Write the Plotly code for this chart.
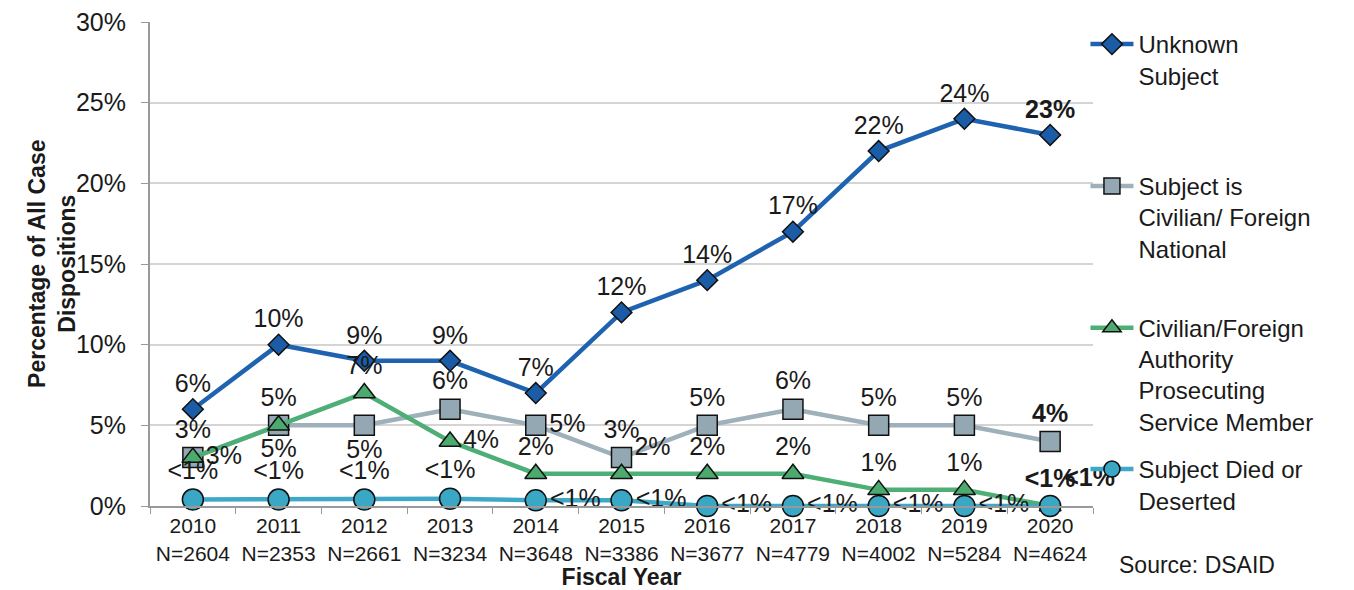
import plotly.graph_objects as go

years = ["2010", "2011", "2012", "2013", "2014", "2015", "2016", "2017", "2018", "2019", "2020"]
case_counts = [2604, 2353, 2661, 3234, 3648, 3386, 3677, 4779, 4002, 5284, 4624]

unknown_subject = [6, 10, 9, 9, 7, 12, 14, 17, 22, 24, 23]
civilian_foreign_national = [3, 5, 5, 6, 5, 3, 5, 6, 5, 5, 4]
foreign_authority = [3, 5, 7, 4, 2, 2, 2, 2, 1, 1, 0]
died_or_deserted = [0.4, 0.4, 0.4, 0.45, 0.35, 0.35, 0, 0, 0, 0, 0]

unknown_labels = ["6%", "10%", "9%", "9%", "7%", "12%", "14%", "17%", "22%", "24%", "<b>23%</b>"]
national_labels = ["3%", "5%", "5%", "6%", "5%", "3%", "5%", "6%", "5%", "5%", "<b>4%</b>"]
authority_labels = ["3%", "5%", "7%", "4%", "2%", "2%", "2%", "2%", "1%", "1%", "<b><1%</b>"]
died_labels = ["<1%"] * 10 + ["<b><1%</b>"]

y_ticks = [0, 5, 10, 15, 20, 25, 30]
tick_text = [f"{y}<br>N={n}" for y, n in zip(years, case_counts)]

FONT = "Liberation Sans, Arial, sans-serif"
LABEL_SIZE = 25

fig = go.Figure()

series = [
    ("Unknown<br>Subject<br> <br> ", unknown_subject, unknown_labels,
     ["top center"] * 11,
     "#1F62B0", "#1A5CA6", "diamond", 16, "legend"),
    ("Subject is<br>Civilian/ Foreign<br>National<br> ", civilian_foreign_national, national_labels,
     ["top center", "top center", "bottom center", "top center", "middle right", "top center",
      "top center", "top center", "top center", "top center", "top center"],
     "#9EB0B9", "#93A8B2", "square", 20, "legend"),
    ("Civilian/Foreign<br>Authority<br>Prosecuting<br>Service Member", foreign_authority, authority_labels,
     ["middle right", "bottom center", "top center", "middle right", "top center", "top right",
      "top center", "top center", "top center", "top center", "top center"],
     "#4DAE76", "#4CAA6E", "triangle-up", 19, "legend"),
    ("Subject Died or<br>Deserted", died_or_deserted, died_labels,
     ["top center", "top center", "top center", "top center", "middle right", "middle right",
      "middle right", "middle right", "middle right", "middle right", "top right"],
     "#3EA8C6", "#3AA7C5", "circle", 21, "legend2"),
]

for i, (name, vals, labels, pos, line_col, fill, sym, size, leg) in enumerate(series):
    fig.add_trace(go.Scatter(
        x=years, y=vals, name=name, legendgroup=f"g{i}", legend=leg,
        mode="lines+markers+text",
        line=dict(color=line_col, width=4.5),
        marker=dict(symbol=sym, size=size, color=fill, line=dict(color="#111111", width=1.5)),
        text=labels, textposition=pos,
        textfont=dict(family=FONT, size=LABEL_SIZE, color="#1a1a1a"),
        cliponaxis=False,
    ))

legend_style = dict(
    x=0.992, xanchor="left", yanchor="top",
    valign="top", tracegroupgap=14, itemwidth=43,
    font=dict(family=FONT, size=24, color="#1a1a1a"),
    bgcolor="rgba(0,0,0,0)",
)

fig.update_layout(
    width=1354, height=590,
    margin=dict(l=150, r=261, t=22, b=84, autoexpand=False),
    paper_bgcolor="white", plot_bgcolor="white",
    font=dict(family=FONT, color="#1a1a1a"),
    showlegend=True,
    legend=dict(legend_style, y=1.0),
    legend2=dict(legend_style, y=0.122),
    xaxis=dict(
        type="category", range=[-0.5, 10.5],
        tickvals=years, ticktext=tick_text, tickangle=0,
        tickson="boundaries", ticks="outside", ticklen=6, tickcolor="#999999",
        showline=True, linecolor="#999999", linewidth=2,
        showgrid=False, automargin=False,
        tickfont=dict(family=FONT, size=21),
        title=dict(text="<b>Fiscal Year</b>", font=dict(family=FONT, size=23), standoff=0),
    ),
    yaxis=dict(
        range=[0, 30], tickvals=y_ticks, ticktext=[f"{v}%" for v in y_ticks],
        ticks="outside", ticklen=7, tickcolor="#999999",
        showline=True, linecolor="#999999", linewidth=2,
        showgrid=True, gridcolor="#d4d4d4", gridwidth=1.5,
        zeroline=False, automargin=False, ticklabelstandoff=10,
        tickfont=dict(family=FONT, size=25),
    ),
    annotations=[
        dict(
            text="<b>Percentage of All Case<br>Dispositions</b>", textangle=-90,
            xref="paper", yref="paper", x=-0.104, y=0.5,
            xanchor="center", yanchor="middle", showarrow=False,
            font=dict(family=FONT, size=23, color="#1a1a1a"),
        ),
        dict(
            text="Source: DSAID", xref="paper", yref="paper", x=1.025, y=-0.122,
            xanchor="left", yanchor="middle", showarrow=False,
            font=dict(family=FONT, size=23, color="#1a1a1a"),
        ),
    ],
)

fig.write_html(
    "out.html",
    config={"displayModeBar": False},
    post_script="document.body.style.margin = '0';",
)
